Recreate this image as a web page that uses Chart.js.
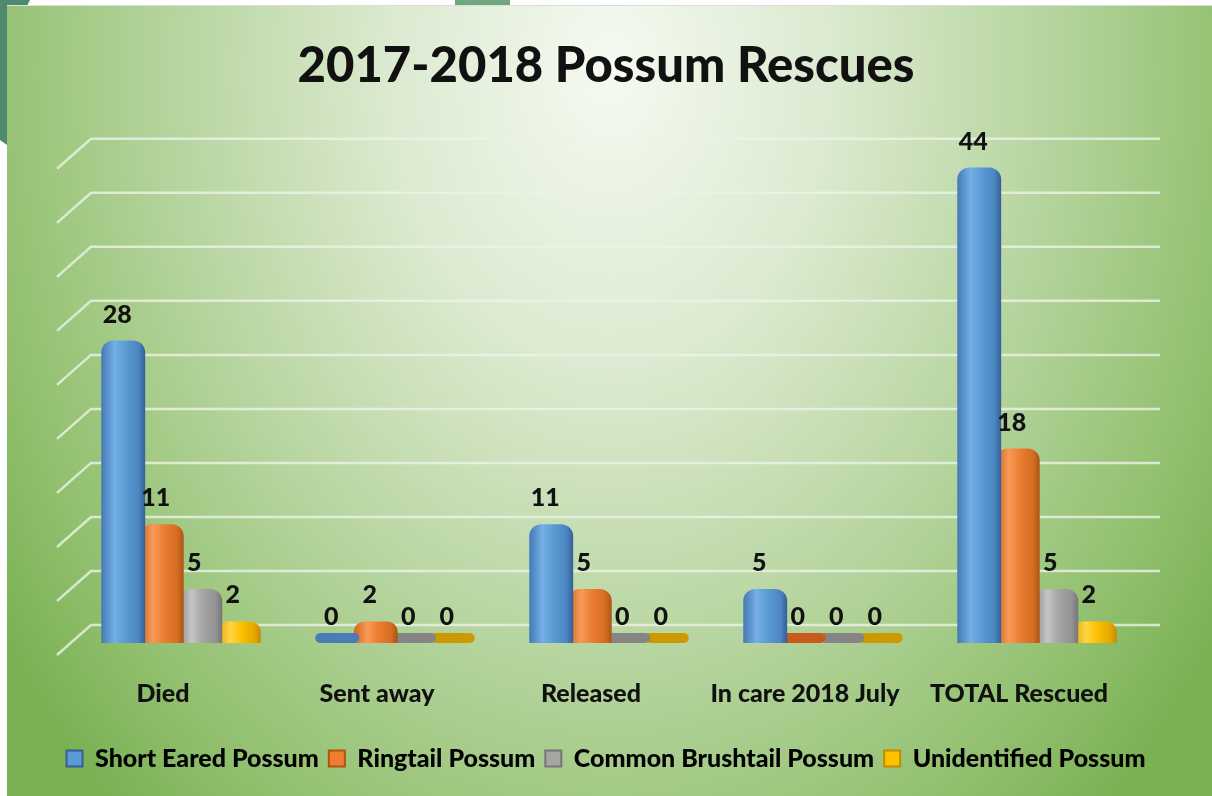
<!DOCTYPE html>
<html>
<head>
<meta charset="utf-8">
<title>2017-2018 Possum Rescues</title>
<script src="https://cdn.jsdelivr.net/npm/chart.js@4.4.1/dist/chart.umd.min.js"></script>
<style>
html, body { margin: 0; padding: 0; background: #fff; }
#wrap { width: 1212px; height: 796px; }
</style>
</head>
<body>
<div id="wrap"><canvas id="possumChart"></canvas></div>
<script>
var categories = ['Died', 'Sent away', 'Released', 'In care 2018 July', 'TOTAL Rescued'];
var seriesNames = ['Short Eared Possum', 'Ringtail Possum', 'Common Brushtail Possum', 'Unidentified Possum'];
var shortEared = [28, 0, 11, 5, 44];
var ringtail = [11, 2, 5, 0, 18];
var brushtail = [5, 0, 0, 0, 5];
var unidentified = [2, 0, 0, 0, 2];
var yMax = 45;
var yStep = 5;

// edge / highlight / body / shade / edge for the rounded column look
var shades = [
    ['#4479b6', '#74afe6', '#5b9bd5', '#4b86c1', '#335f96'],
    ['#cf6420', '#f89a58', '#ed7d31', '#d56d22', '#ad5415'],
    ['#8f8f8f', '#c4c4c4', '#a5a5a5', '#939393', '#767676'],
    ['#e0a500', '#ffd546', '#ffc000', '#e6a900', '#c08c00']
];
var flatColors = ['#4a7cb5', '#c85a1c', '#858585', '#cc9a00'];

Chart.defaults.font.family = 'Lato';

var backdrop = {
    id: 'backdrop',
    beforeDraw: function(chart) {
        var ctx = chart.ctx;
        var w = chart.width, h = chart.height;
        ctx.save();
        ctx.fillStyle = '#ffffff';
        ctx.fillRect(0, 0, w, h);
        // bit of the slide picture peeking out behind the panel
        ctx.fillStyle = '#4f8a6e';
        ctx.beginPath();
        ctx.moveTo(0, 0);
        ctx.lineTo(30, 0);
        ctx.quadraticCurveTo(8, 40, 7, 145);
        ctx.lineTo(0, 140);
        ctx.closePath();
        ctx.fill();
        ctx.fillStyle = '#6fa87c';
        ctx.fillRect(455, 0, 55, 5);
        ctx.fillStyle = '#dcdcdc';
        ctx.fillRect(7, 5, w - 7, 1);
        // panel with soft radial light near the title
        ctx.translate(610, 70);
        ctx.scale(1, 1.35);
        var g = ctx.createRadialGradient(0, 0, 0, 0, 0, 740);
        g.addColorStop(0, '#f6faf1');
        g.addColorStop(0.3, '#dbead0');
        g.addColorStop(0.6, '#b5d49d');
        g.addColorStop(0.85, '#92c06f');
        g.addColorStop(1, '#7ab153');
        ctx.fillStyle = g;
        ctx.fillRect(7 - 610, (6 - 70) / 1.35, w, h / 1.35);
        ctx.restore();
    }
};

var wallGrid = {
    id: 'wallGrid',
    beforeDatasetsDraw: function(chart) {
        var ctx = chart.ctx;
        var a = chart.chartArea;
        var ys = chart.scales.y;
        ctx.save();
        ctx.strokeStyle = 'rgba(236, 242, 230, 0.8)';
        ctx.lineWidth = 2.5;
        ys.ticks.forEach(function(t) {
            var py = ys.getPixelForValue(t.value) - 18;
            ctx.beginPath();
            ctx.moveTo(a.left - 17, py + 30);
            ctx.lineTo(a.left + 17, py);
            ctx.lineTo(a.right + 16, py);
            ctx.stroke();
        });
        ctx.restore();

        // shaded fill across each column
        chart.data.datasets.forEach(function(ds, di) {
            var meta = chart.getDatasetMeta(di);
            meta.data.forEach(function(bar, i) {
                if (ds.data[i] === 0) return;
                var p = bar.getProps(['x', 'width']);
                var lg = ctx.createLinearGradient(p.x - p.width / 2, 0, p.x + p.width / 2, 0);
                var s = shades[di];
                lg.addColorStop(0, s[0]);
                lg.addColorStop(0.3, s[1]);
                lg.addColorStop(0.55, s[2]);
                lg.addColorStop(0.85, s[3]);
                lg.addColorStop(1, s[4]);
                bar.options.backgroundColor = lg;
            });
        });
    }
};

var valueLabels = {
    id: 'valueLabels',
    afterDatasetsDraw: function(chart) {
        var ctx = chart.ctx;
        var ys = chart.scales.y;
        ctx.save();
        ctx.font = '900 25px Lato';
        ctx.fillStyle = '#111111';
        ctx.textAlign = 'center';
        ctx.textBaseline = 'middle';
        chart.data.datasets.forEach(function(ds, di) {
            chart.getDatasetMeta(di).data.forEach(function(bar, i) {
                var v = ds.data[i];
                ctx.fillText(String(v), bar.x - 6, ys.getPixelForValue(v) - 26);
            });
        });
        ctx.restore();
    }
};

function makeSet(name, values, idx) {
    return {
        label: name,
        data: values,
        backgroundColor: function(c) {
            return c.raw === 0 ? flatColors[idx] : shades[idx][2];
        },
        borderRadius: function(c) {
            if (c.raw === 0) return { topLeft: 6, topRight: 6, bottomLeft: 6, bottomRight: 6 };
            return { topLeft: 12, topRight: 12, bottomLeft: 0, bottomRight: 0 };
        },
        borderSkipped: false,
        minBarLength: 10,
        categoryPercentage: 0.72,
        barPercentage: 1.14
    };
}

var ctx = document.getElementById('possumChart').getContext('2d');
var chart = new Chart(ctx, {
    type: 'bar',
    data: {
        labels: categories,
        datasets: [
            makeSet(seriesNames[0], shortEared, 0),
            makeSet(seriesNames[1], ringtail, 1),
            makeSet(seriesNames[2], brushtail, 2),
            makeSet(seriesNames[3], unidentified, 3)
        ]
    },
    options: {
        responsive: true,
        maintainAspectRatio: false,
        animation: false,
        layout: { padding: { left: 0, right: 0, top: 0, bottom: 15 } },
        plugins: {
            title: {
                display: true,
                text: '2017-2018 Possum Rescues',
                color: '#111111',
                font: { size: 49, weight: '900' },
                padding: { top: 37, bottom: 61 }
            },
            legend: {
                position: 'bottom',
                labels: {
                    color: '#111111',
                    font: { size: 25, weight: '900' },
                    boxWidth: 16,
                    boxHeight: 16,
                    padding: 10,
                    generateLabels: function(ch) {
                        return ch.data.datasets.map(function(ds, i) {
                            return {
                                text: ds.label,
                                fillStyle: shades[i][2],
                                strokeStyle: shades[i][4],
                                lineWidth: 2,
                                datasetIndex: i
                            };
                        });
                    }
                }
            },
            tooltip: { enabled: false }
        },
        scales: {
            x: {
                grid: { display: false, drawTicks: false },
                border: { display: false },
                ticks: {
                    color: '#111111',
                    font: { size: 25, weight: '900' },
                    padding: 36,
                    labelOffset: -18,
                    maxRotation: 0
                },
                afterFit: function(scale) { scale.height = 93; }
            },
            y: {
                min: 0,
                max: yMax,
                grid: { display: false, drawTicks: false },
                border: { display: false },
                ticks: { display: false, stepSize: yStep },
                afterFit: function(scale) { scale.width = 74; }
            },
            // empty right-hand axis that only reserves the margin beside the wall
            edge: {
                position: 'right',
                min: 0,
                max: yMax,
                grid: { display: false, drawTicks: false },
                border: { display: false },
                ticks: { display: false },
                afterFit: function(scale) { scale.width = 68; }
            }
        }
    },
    plugins: [backdrop, wallGrid, valueLabels]
});
</script>
</body>
</html>
